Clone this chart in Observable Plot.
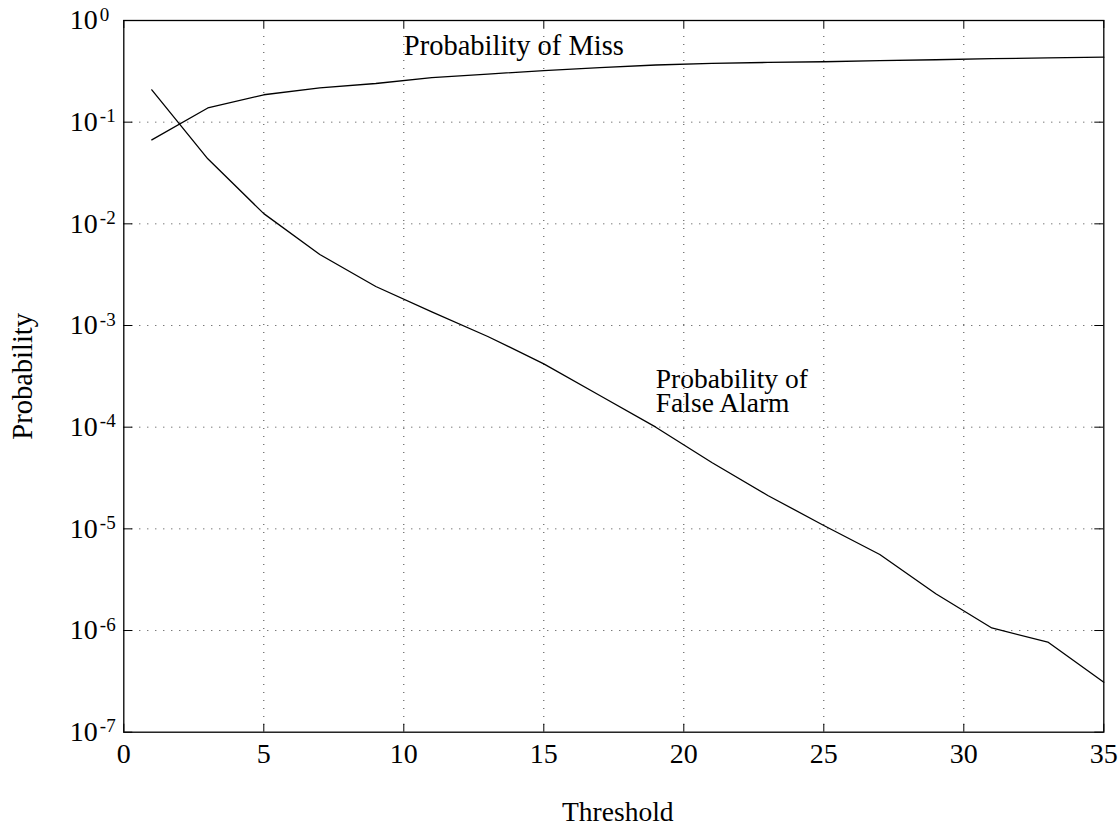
<!DOCTYPE html>
<html>
<head>
<meta charset="utf-8">
<script src="https://cdn.jsdelivr.net/npm/d3@7"></script>
<script src="https://cdn.jsdelivr.net/npm/@observablehq/plot@0.6"></script>
<style>
  html, body { margin: 0; padding: 0; background: #fff; }
  #chart { width: 1120px; height: 827px; }
</style>
</head>
<body>
<div id="chart"></div>
<script>
// Thresholds (odd values 1..35)
const threshold = [1, 3, 5, 7, 9, 11, 13, 15, 17, 19, 21, 23, 25, 27, 29, 31, 33, 35];
// Probability of Miss
const probMiss = [0.067, 0.138, 0.186, 0.217, 0.240, 0.274, 0.297, 0.322, 0.344, 0.365, 0.379, 0.387, 0.393, 0.403, 0.411, 0.421, 0.429, 0.436];
// Probability of False Alarm
const probFalseAlarm = [0.208, 0.0436, 0.0126, 0.00499, 0.00242, 0.00136, 7.8e-4, 4.2e-4, 2.05e-4, 1.0e-4, 4.5e-5, 2.13e-5, 1.08e-5, 5.6e-6, 2.3e-6, 1.06e-6, 7.7e-7, 3.1e-7];

const xTicks = [0, 5, 10, 15, 20, 25, 30, 35];
const yTicks = [1e0, 1e-1, 1e-2, 1e-3, 1e-4, 1e-5, 1e-6, 1e-7];
const yExponents = ["0", "-1", "-2", "-3", "-4", "-5", "-6", "-7"];

const missLabel = [{x: 10, y: 0.568, text: "Probability of Miss"}];
const faLabel = [{x: 19, y: 2.19e-4, text: "Probability of\nFalse Alarm"}];

const missData = threshold.map((t, i) => ({t, p: probMiss[i]}));
const faData = threshold.map((t, i) => ({t, p: probFalseAlarm[i]}));
const yTickData = yTicks.map((v, i) => ({v, e: yExponents[i]}));

const W = 1120, H = 827;
const mL = 123.3, mR = 16.7, mT = 20, mB = 95.3;
const frameH = H - mT - mB;
const frameW = W - mL - mR;
const font = "'Liberation Serif', 'Times New Roman', serif";
const fs = 28;

const chart = Plot.plot({
  width: W,
  height: H,
  marginLeft: mL,
  marginRight: mR,
  marginTop: mT,
  marginBottom: mB,
  style: {fontFamily: font, fontSize: fs + "px", background: "#fff", color: "#000"},
  x: {domain: [0, 35], axis: null},
  y: {type: "log", domain: [1e-7, 1], axis: null},
  marks: [
    // dotted grid
    Plot.ruleX(xTicks.slice(1, -1), {x: d => d, stroke: "#000", strokeOpacity: 0.75, strokeDasharray: "1,7"}),
    Plot.ruleY(yTicks.slice(1, -1), {y: d => d, stroke: "#000", strokeOpacity: 0.75, strokeDasharray: "1,7"}),
    // inward ticks
    Plot.tickX(xTicks, {x: d => d, insetTop: frameH - 8, stroke: "#000"}),
    Plot.tickX(xTicks, {x: d => d, insetBottom: frameH - 8, stroke: "#000"}),
    Plot.tickY(yTicks, {y: d => d, insetRight: frameW - 9, stroke: "#000"}),
    Plot.tickY(yTicks, {y: d => d, insetLeft: frameW - 9, stroke: "#000"}),
    // frame
    Plot.frame({stroke: "#000", strokeWidth: 1.3}),
    // curves
    Plot.line(missData, {x: "t", y: "p", stroke: "#000", strokeWidth: 1.3}),
    Plot.line(faData, {x: "t", y: "p", stroke: "#000", strokeWidth: 1.3}),
    // x tick labels
    Plot.text(xTicks, {x: d => d, text: d => String(d), frameAnchor: "bottom", dy: 22, lineAnchor: "middle", textAnchor: "middle", fontSize: fs, fill: "#000"}),
    // y tick labels: "10" with superscript exponent
    Plot.text(yTickData, {y: "v", text: () => "10", frameAnchor: "left", textAnchor: "end", dx: -26, lineAnchor: "middle", fontSize: fs, fill: "#000"}),
    Plot.text(yTickData, {y: "v", text: "e", frameAnchor: "left", textAnchor: "start", dx: -24, dy: -6, lineAnchor: "middle", fontSize: 19, fill: "#000"}),
    // in-plot labels
    Plot.text(missLabel, {x: "x", y: "y", text: "text", textAnchor: "start", lineAnchor: "middle", fontSize: 28.5, fill: "#000"}),
    Plot.text(faLabel, {x: "x", y: "y", text: "text", textAnchor: "start", lineAnchor: "middle", lineHeight: 0.88, fontSize: 27.5, fill: "#000"}),
    // axis titles
    Plot.text(["Probability"], {frameAnchor: "left", rotate: -90, dx: -101, textAnchor: "middle", lineAnchor: "middle", fontSize: 28.5, fill: "#000"}),
    Plot.text(["Threshold"], {frameAnchor: "bottom", dx: 4, dy: 80, textAnchor: "middle", lineAnchor: "middle", fontSize: 27.5, fill: "#000"})
  ]
});
document.getElementById("chart").appendChild(chart);
</script>
</body>
</html>
